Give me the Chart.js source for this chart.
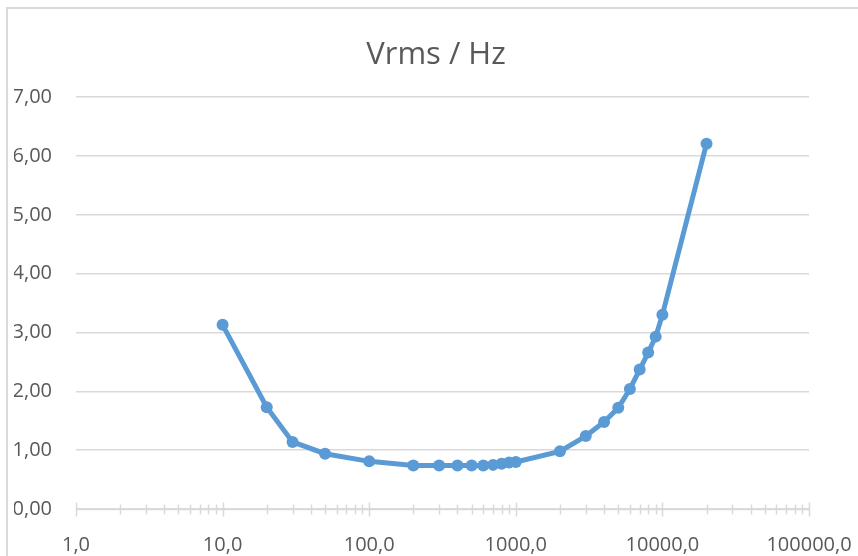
<!DOCTYPE html>
<html lang="en">
<head>
    <meta charset="UTF-8">
    <title>Vrms / Hz</title>
    <script src="https://cdn.jsdelivr.net/npm/chart.js"></script>
    <style>
        body {
            margin: 0;
            background-color: #ffffff;
            font-family: 'Open Sans', sans-serif;
        }
        .frame {
            position: absolute;
            left: 6px;
            top: 7px;
            width: 900px;
            height: 600px;
            border-left: 2px solid #d9d9d9;
            border-top: 2px solid #d9d9d9;
        }
        .chart-container {
            position: relative;
            width: 858px;
            height: 556px;
        }
    </style>
</head>
<body>
    <div class="frame"></div>
    <div class="chart-container">
        <canvas id="vrmsChart"></canvas>
    </div>

    <script>
        // measured frequencies (Hz) and RMS voltage
        const frequencies = [10, 20, 30, 50, 100, 200, 300, 400, 500, 600, 700, 800, 900, 1000,
                             2000, 3000, 4000, 5000, 6000, 7000, 8000, 9000, 10000, 20000];
        const vrms = [3.13, 1.73, 1.14, 0.94, 0.81, 0.74, 0.74, 0.74, 0.74, 0.74, 0.75, 0.77, 0.79, 0.80,
                      0.98, 1.24, 1.48, 1.72, 2.04, 2.37, 2.66, 2.93, 3.30, 6.21];

        const decades = [1, 10, 100, 1000, 10000, 100000];
        const decadeLabels = ['1,0', '10,0', '100,0', '1000,0', '10000,0', '100000,0'];

        const textColor = '#595959';
        const gridColor = '#d9d9d9';
        const lineColor = '#5b9bd5';

        const points = frequencies.map((f, i) => ({ x: f, y: vrms[i] }));

        // axis line with tick marks crossing it, like the spreadsheet axis
        const axisTicks = {
            id: 'axisTicks',
            beforeDatasetsDraw(chart) {
                const xs = chart.scales.x;
                const y0 = Math.round(chart.scales.y.getPixelForValue(0)) + 0.5;
                const ctx = chart.ctx;
                ctx.save();
                ctx.strokeStyle = gridColor;
                ctx.lineWidth = 1.5;
                ctx.beginPath();
                ctx.moveTo(chart.chartArea.left, y0);
                ctx.lineTo(chart.chartArea.right, y0);
                ctx.stroke();
                xs.ticks.forEach(t => {
                    const px = Math.round(xs.getPixelForValue(t.value)) + 0.5;
                    const len = decades.includes(t.value) ? 7 : 5;
                    ctx.beginPath();
                    ctx.moveTo(px, y0 - len);
                    ctx.lineTo(px, y0 + len);
                    ctx.stroke();
                });
                ctx.restore();
            }
        };

        const ctx = document.getElementById('vrmsChart').getContext('2d');
        new Chart(ctx, {
            type: 'line',
            data: {
                datasets: [{
                    label: 'Vrms',
                    data: points,
                    borderColor: lineColor,
                    backgroundColor: lineColor,
                    borderWidth: 5,
                    pointRadius: 6,
                    pointBackgroundColor: lineColor,
                    pointBorderWidth: 0,
                    tension: 0
                }]
            },
            options: {
                responsive: true,
                maintainAspectRatio: false,
                animation: false,
                layout: {
                    padding: { left: 14, right: 0, top: 0, bottom: 0 }
                },
                scales: {
                    x: {
                        type: 'logarithmic',
                        min: 1,
                        max: 100000,
                        afterBuildTicks: function(scale) {
                            const list = [];
                            decades.forEach(d => {
                                if (d === 100000) {
                                    list.push({ value: d });
                                    return;
                                }
                                for (let m = 1; m < 10; m++) list.push({ value: d * m });
                            });
                            scale.ticks = list;
                        },
                        afterFit: function(scale) {
                            scale.height = 47;
                            // let the end labels overhang like the original
                            scale.paddingLeft = 0;
                            scale.paddingRight = 0;
                        },
                        grid: { display: false },
                        border: { display: false },
                        ticks: {
                            autoSkip: false,
                            maxRotation: 0,
                            padding: 16,
                            color: textColor,
                            font: { family: 'Open Sans', size: 20 },
                            callback: function(value) {
                                const i = decades.indexOf(value);
                                return i >= 0 ? decadeLabels[i] : '';
                            }
                        }
                    },
                    y: {
                        min: 0,
                        max: 7,
                        afterFit: function(scale) {
                            scale.width = 62;
                        },
                        grid: {
                            color: gridColor,
                            lineWidth: 1.5,
                            drawTicks: false
                        },
                        border: { display: false },
                        ticks: {
                            stepSize: 1,
                            padding: 24,
                            color: textColor,
                            font: { family: 'Open Sans', size: 20 },
                            callback: function(value) {
                                return value.toFixed(2).replace('.', ',');
                            }
                        }
                    },
                    // empty right-hand space so the title centres on the whole chart
                    spacer: {
                        position: 'right',
                        afterFit: function(scale) {
                            scale.width = 49;
                        },
                        grid: { display: false },
                        border: { display: false },
                        ticks: { display: false }
                    }
                },
                plugins: {
                    legend: { display: false },
                    tooltip: { enabled: false },
                    title: {
                        display: true,
                        text: 'Vrms / Hz',
                        color: textColor,
                        font: { family: 'Open Sans', size: 31, weight: 'normal' },
                        padding: { top: 37, bottom: 23 }
                    }
                }
            },
            plugins: [axisTicks]
        });
    </script>
</body>
</html>
